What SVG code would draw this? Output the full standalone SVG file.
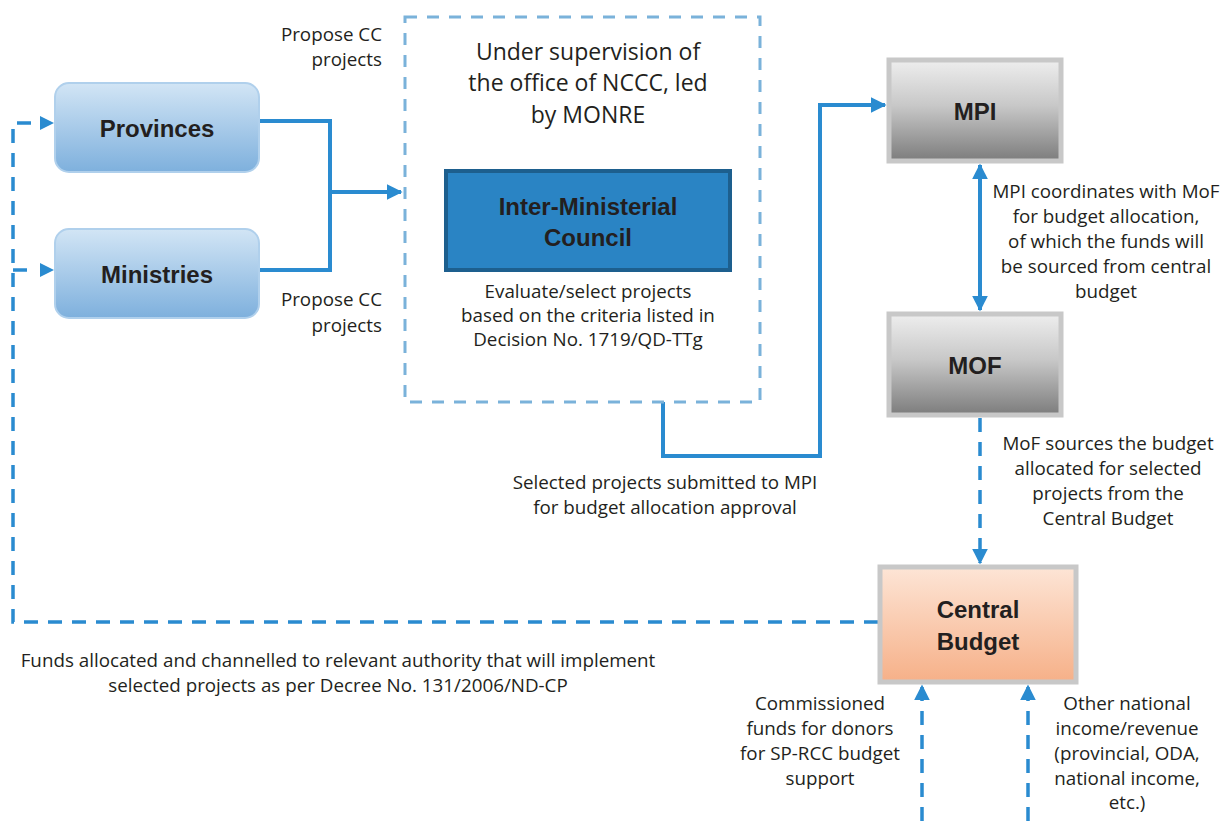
<svg xmlns="http://www.w3.org/2000/svg" width="1220" height="821" viewBox="0 0 1220 821">
<defs>
<linearGradient id="gBlue" x1="0" y1="0" x2="0" y2="1"><stop offset="0" stop-color="#d2e5f5"/><stop offset="1" stop-color="#7eb0dd"/></linearGradient>
<linearGradient id="gGray" x1="0" y1="0" x2="0" y2="1"><stop offset="0" stop-color="#eeeeee"/><stop offset="0.45" stop-color="#c8c8c8"/><stop offset="1" stop-color="#7c7c7c"/></linearGradient>
<linearGradient id="gOrange" x1="0" y1="0" x2="0" y2="1"><stop offset="0" stop-color="#fde5d6"/><stop offset="1" stop-color="#f6b088"/></linearGradient>
<marker id="arr" viewBox="0 0 10 10" refX="9" refY="5" markerWidth="4" markerHeight="4" markerUnits="strokeWidth" orient="auto-start-reverse"><path d="M0,0 L10,5 L0,10 z" fill="#2a8bd0"/></marker>
<marker id="arrS" viewBox="0 0 10 10" refX="9" refY="5" markerWidth="4.5" markerHeight="4.5" markerUnits="strokeWidth" orient="auto-start-reverse"><path d="M0,0 L10,5 L0,10 z" fill="#2a8bd0"/></marker>
</defs>
<style>
.t{font-family:"Open Sans","Liberation Sans",Arial,sans-serif;font-size:18.8px;fill:#231f20;text-anchor:middle}
.b{font-family:"Liberation Sans",Arial,sans-serif;font-size:24px;font-weight:bold;fill:#231f20;text-anchor:middle}
.solid{fill:none;stroke:#2a8bd0;stroke-width:4}
.dash{fill:none;stroke:#2a8bd0;stroke-width:3.5;stroke-dasharray:14 10}
</style>
<rect width="1220" height="821" fill="#ffffff"/>
<g id="connectors">
<polyline class="solid" points="259,121 330,121 330,270 259,270"/>
<line class="solid" x1="330" y1="192" x2="401" y2="192" marker-end="url(#arr)"/>
<polyline class="solid" points="663,402 663,456 820,456 820,105 885,105" marker-end="url(#arr)"/>
<line class="solid" x1="980" y1="165" x2="980" y2="310" marker-start="url(#arr)" marker-end="url(#arr)"/>
<line class="dash" x1="980" y1="418" x2="980" y2="563" marker-end="url(#arrS)"/>
<polyline class="dash" points="878,622 13,622 13,123 36,123"/>
<path d="M40,116 L54,123 L40,130 z" fill="#2a8bd0"/>
<polyline class="dash" points="13,270 34,270"/>
<path d="M40,263 L54,270 L40,277 z" fill="#2a8bd0"/>
<line class="dash" x1="922" y1="821" x2="922" y2="686" marker-end="url(#arrS)"/>
<line class="dash" x1="1028" y1="821" x2="1028" y2="686" marker-end="url(#arrS)"/>
</g>
<g id="provinces">
<rect x="55" y="83" width="204" height="89" rx="14" fill="url(#gBlue)" stroke="#b0d0ec" stroke-width="2"/>
<text class="b" x="157" y="137">Provinces</text>
</g>
<g id="ministries">
<rect x="55" y="229" width="204" height="89" rx="14" fill="url(#gBlue)" stroke="#b0d0ec" stroke-width="2"/>
<text class="b" x="157" y="283">Ministries</text>
</g>
<g id="supervision">
<rect x="405" y="17" width="355" height="385" fill="none" stroke="#7ab2da" stroke-width="3" stroke-dasharray="12 10"/>
<text class="t" style="font-size:23px" x="588" y="60">Under supervision of</text>
<text class="t" style="font-size:23px" x="588" y="91">the office of NCCC, led</text>
<text class="t" style="font-size:23px" x="588" y="123">by MONRE</text>
</g>
<g id="council">
<rect x="446" y="171" width="284" height="99" fill="#2a84c4" stroke="#1d5f8e" stroke-width="4"/>
<text class="b" x="588" y="215">Inter-Ministerial</text>
<text class="b" x="588" y="246">Council</text>
<text class="t" x="588" y="298">Evaluate/select projects</text>
<text class="t" x="588" y="322">based on the criteria listed in</text>
<text class="t" x="588" y="346">Decision No. 1719/QD-TTg</text>
</g>
<g id="mpi">
<rect x="889" y="60" width="172" height="101" fill="url(#gGray)" stroke="#c8c8c8" stroke-width="5"/>
<text class="b" x="975" y="120">MPI</text>
</g>
<g id="mof">
<rect x="889" y="314" width="172" height="101" fill="url(#gGray)" stroke="#c8c8c8" stroke-width="5"/>
<text class="b" x="975" y="374">MOF</text>
</g>
<g id="central-budget">
<rect x="880" y="567" width="196" height="115" fill="url(#gOrange)" stroke="#c8c8c8" stroke-width="5"/>
<text class="b" x="978" y="618">Central</text>
<text class="b" x="978" y="650">Budget</text>
</g>
<g id="labels">
<text class="t" x="382" y="41" style="text-anchor:end">Propose CC</text>
<text class="t" x="382" y="66" style="text-anchor:end">projects</text>
<text class="t" x="382" y="306" style="text-anchor:end">Propose CC</text>
<text class="t" x="382" y="332" style="text-anchor:end">projects</text>
<text class="t" x="665" y="489">Selected projects submitted to MPI</text>
<text class="t" x="665" y="514">for budget allocation approval</text>
<text class="t" x="1106" y="198">MPI coordinates with MoF</text>
<text class="t" x="1106" y="223">for budget allocation,</text>
<text class="t" x="1106" y="248">of which the funds will</text>
<text class="t" x="1106" y="273">be sourced from central</text>
<text class="t" x="1106" y="298">budget</text>
<text class="t" x="1108" y="450">MoF sources the budget</text>
<text class="t" x="1108" y="475">allocated for selected</text>
<text class="t" x="1108" y="500">projects from the</text>
<text class="t" x="1108" y="525">Central Budget</text>
<text class="t" x="338" y="667">Funds allocated and channelled to relevant authority that will implement</text>
<text class="t" x="338" y="692">selected projects as per Decree No. 131/2006/ND-CP</text>
<text class="t" x="820" y="710">Commissioned</text>
<text class="t" x="820" y="735">funds for donors</text>
<text class="t" x="820" y="760">for SP-RCC budget</text>
<text class="t" x="820" y="785">support</text>
<text class="t" x="1127" y="710">Other national</text>
<text class="t" x="1127" y="735">income/revenue</text>
<text class="t" x="1127" y="760">(provincial, ODA,</text>
<text class="t" x="1127" y="785">national income,</text>
<text class="t" x="1127" y="809">etc.)</text>
</g>
</svg>
